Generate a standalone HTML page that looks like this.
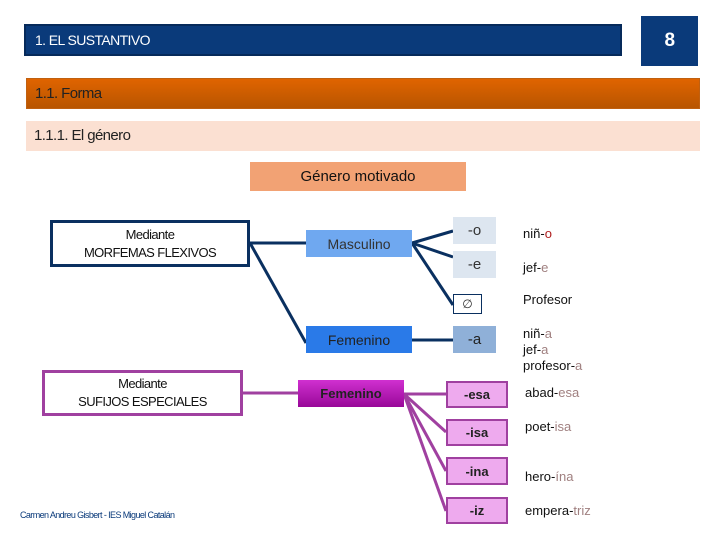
<!DOCTYPE html>
<html><head><meta charset="utf-8"><style>
body{margin:0;width:720px;height:540px;background:#fff;position:relative;overflow:hidden;font-family:"Liberation Sans",sans-serif}
.a{position:absolute;box-sizing:border-box}
.c{display:flex;align-items:center;justify-content:center;text-align:center}
.n{font-family:"Liberation Sans Narrow","Liberation Sans",sans-serif;letter-spacing:-0.6px}
.ex{position:absolute;font-size:13px;color:#111;line-height:16px}
.r{color:#a08080}
.suf{background:#eeaaee;border:2px solid #a040a0;font-weight:bold;font-size:13px;color:#222}
.lt{background:#dde6f0;font-size:15px;color:#333}
</style></head><body>
<div class="a n" style="left:24px;top:24px;width:598px;height:32px;background:#0a3a7a;border:2px solid #062a5a;color:#fff;font-size:14px;line-height:28px;padding-left:9px">1. EL SUSTANTIVO</div>
<div class="a c n" style="left:641px;top:16px;width:57px;height:50px;background:#0a3a7a;color:#fff;font-size:19px;font-weight:bold">8</div>
<div class="a n" style="left:26px;top:78px;width:674px;height:31px;background:linear-gradient(#e06400,#b85500);border:1px solid #c06010;color:#222;font-size:15px;line-height:30px;padding-left:8px">1.1. Forma</div>
<div class="a n" style="left:26px;top:121px;width:674px;height:30px;background:#fbe0d2;color:#222;font-size:15px;line-height:30px;padding-left:8px">1.1.1. El género</div>
<div class="a c" style="left:250px;top:162px;width:216px;height:29px;background:#f2a274;font-size:15px;color:#111">Género motivado</div>
<svg class="a" style="left:0;top:0" width="720" height="540">
<g stroke="#0a3060" stroke-width="3" fill="none">
<line x1="250" y1="243" x2="306" y2="243"/>
<line x1="250" y1="243" x2="306" y2="343"/>
<line x1="412" y1="243" x2="453" y2="231"/>
<line x1="412" y1="243" x2="453" y2="257"/>
<line x1="412" y1="243" x2="453" y2="305"/>
<line x1="412" y1="340" x2="453" y2="340"/>
</g>
<g stroke="#a040a0" stroke-width="3" fill="none">
<line x1="243" y1="393" x2="298" y2="393"/>
<line x1="404" y1="394" x2="446" y2="394"/>
<line x1="404" y1="394" x2="446" y2="432"/>
<line x1="404" y1="394" x2="446" y2="471"/>
<line x1="404" y1="394" x2="446" y2="511"/>
</g>
</svg>
<div class="a c n" style="left:50px;top:220px;width:200px;height:47px;border:3px solid #0a3060;font-size:13px;color:#111;line-height:18px">Mediante<br>MORFEMAS FLEXIVOS</div>
<div class="a c n" style="left:42px;top:370px;width:201px;height:46px;border:3px solid #a040a0;font-size:13px;color:#111;line-height:18px">Mediante<br>SUFIJOS ESPECIALES</div>
<div class="a c" style="left:306px;top:230px;width:106px;height:27px;background:#6fa8f0;font-size:14px;color:#333">Masculino</div>
<div class="a c" style="left:306px;top:326px;width:106px;height:27px;background:#2a7ae8;font-size:14px;color:#222">Femenino</div>
<div class="a c" style="left:298px;top:380px;width:106px;height:27px;background:linear-gradient(#d030d0,#980898);font-size:13px;font-weight:bold;color:#222">Femenino</div>
<div class="a c lt" style="left:453px;top:217px;width:43px;height:27px">-o</div>
<div class="a c lt" style="left:453px;top:251px;width:43px;height:27px">-e</div>
<div class="a c" style="left:453px;top:294px;width:29px;height:20px;border:1px solid #0a3060;font-size:12px;color:#333">∅</div>
<div class="a c" style="left:453px;top:326px;width:43px;height:27px;background:#8fb0d8;font-size:15px;color:#222">-a</div>
<div class="a c suf" style="left:446px;top:381px;width:62px;height:27px">-esa</div>
<div class="a c suf" style="left:446px;top:419px;width:62px;height:27px">-isa</div>
<div class="a c suf" style="left:446px;top:457px;width:62px;height:28px">-ina</div>
<div class="a c suf" style="left:446px;top:497px;width:62px;height:27px">-iz</div>
<div class="ex" style="left:523px;top:226px">niñ-<span style="color:#b02020">o</span></div>
<div class="ex" style="left:523px;top:260px">jef-<span class="r">e</span></div>
<div class="ex" style="left:523px;top:292px">Profesor</div>
<div class="ex" style="left:523px;top:326px">niñ-<span class="r">a</span><br>jef-<span class="r">a</span><br>profesor-<span class="r">a</span></div>
<div class="ex" style="left:525px;top:385px">abad-<span class="r">esa</span></div>
<div class="ex" style="left:525px;top:419px">poet-<span class="r">isa</span></div>
<div class="ex" style="left:525px;top:469px">hero-<span class="r">ína</span></div>
<div class="ex" style="left:525px;top:503px">empera-<span class="r">triz</span></div>
<div class="a n" style="left:20px;top:510px;font-size:9px;color:#0a3a7a">Carmen Andreu Gisbert - IES Miguel Catalán</div>
</body></html>
